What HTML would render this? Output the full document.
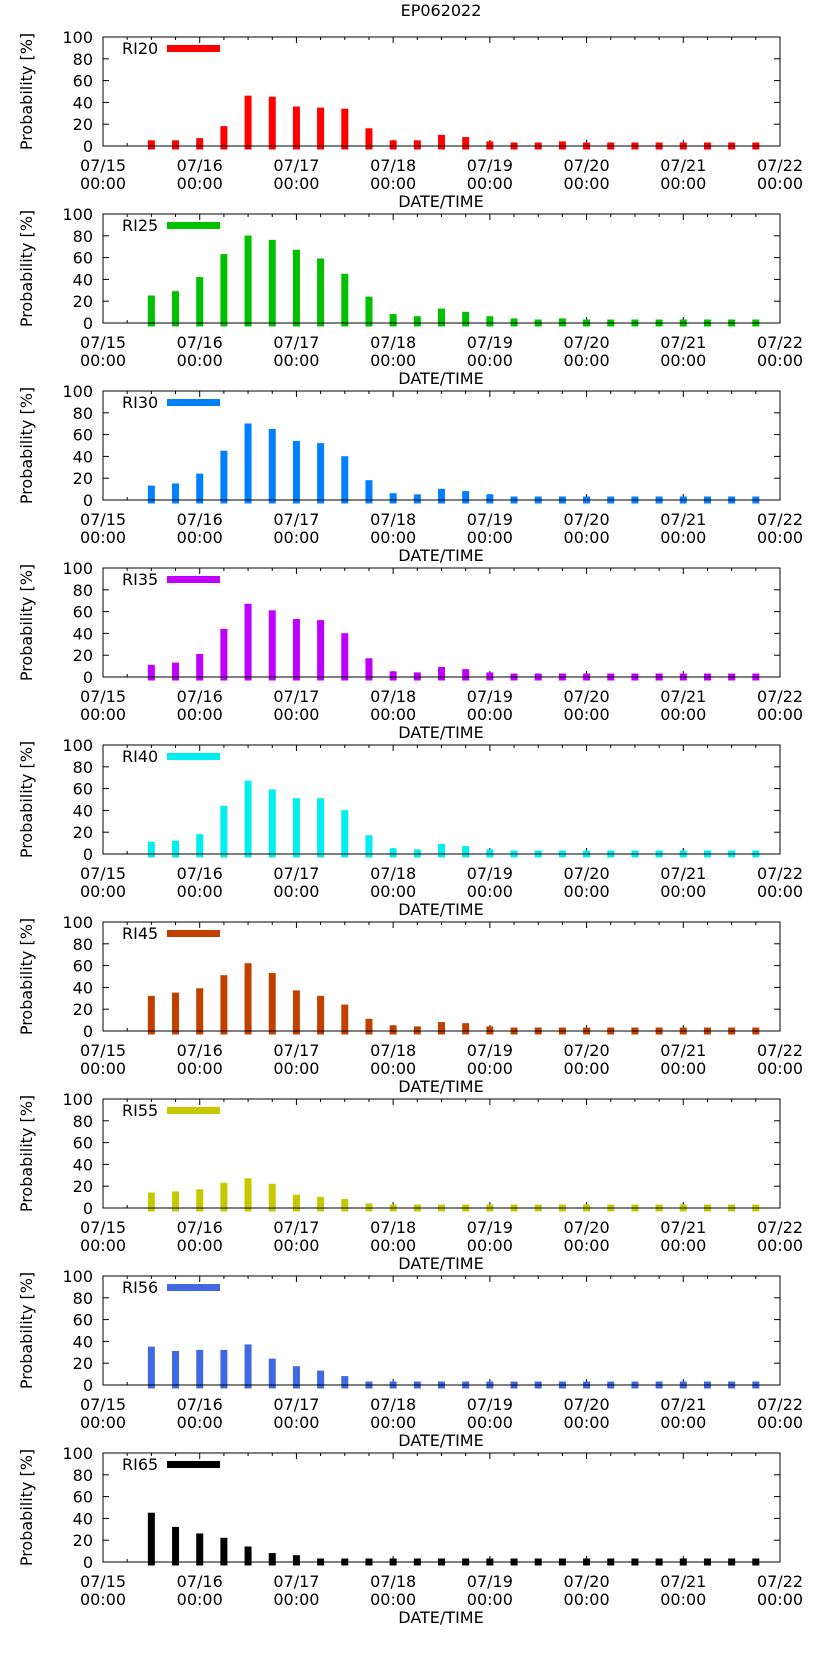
<!DOCTYPE html>
<html><head><meta charset="utf-8"><style>
html,body{margin:0;padding:0;background:#fff;}
svg text{font-family:"DejaVu Sans","Liberation Sans",sans-serif;font-size:16px;fill:#000;}
</style></head><body>
<svg id="chart" width="822" height="1653" xmlns="http://www.w3.org/2000/svg">
<text x="441" y="16" text-anchor="middle">EP062022</text>
</svg>
<script>
const seriesNames = ["RI20","RI25","RI30","RI35","RI40","RI45","RI55","RI56","RI65"];
const seriesColors = ["#ff0000","#00c000","#0080ff","#c000ff","#00eeee","#c04000","#c8c800","#4169e1","#000000"];
const ri20 = [2,2,4,15,43,42,33,32,31,13,2,2,7,5,1,0,0,1,0,0,0,0,0,0,0,0];
const ri25 = [22,26,39,60,77,73,64,56,42,21,5,3,10,7,3,1,0,1,0,0,0,0,0,0,0,0];
const ri30 = [10,12,21,42,67,62,51,49,37,15,3,2,7,5,2,0,0,0,0,0,0,0,0,0,0,0];
const ri35 = [8,10,18,41,64,58,50,49,37,14,2,1,6,4,1,0,0,0,0,0,0,0,0,0,0,0];
const ri40 = [8,9,15,41,64,56,48,48,37,14,2,1,6,4,1,0,0,0,0,0,0,0,0,0,0,0];
const ri45 = [29,32,36,48,59,50,34,29,21,8,2,1,5,4,1,0,0,0,0,0,0,0,0,0,0,0];
const ri55 = [11,12,14,20,24,19,9,7,5,1,0,0,0,0,0,0,0,0,0,0,0,0,0,0,0,0];
const ri56 = [32,28,29,29,34,21,14,10,5,0,0,0,0,0,0,0,0,0,0,0,0,0,0,0,0,0];
const ri65 = [42,29,23,19,11,5,3,0,0,0,0,0,0,0,0,0,0,0,0,0,0,0,0,0,0,0];
const allSeries = [ri20,ri25,ri30,ri35,ri40,ri45,ri55,ri56,ri65];
const firstHour = 12, stepHours = 6;
const yTicks = [0,20,40,60,80,100];
const dayLabels = ["07/15","07/16","07/17","07/18","07/19","07/20","07/21","07/22"];

const NS="http://www.w3.org/2000/svg";
const svg=document.getElementById('chart');
const X0=103, X1=780, DAYPX=(X1-X0)/7;
const xScale=h=>X0+h/24*DAYPX;
function mk(tag,attrs,parent){const e=document.createElementNS(NS,tag);for(const k in attrs)e.setAttribute(k,attrs[k]);(parent||svg).appendChild(e);return e;}
allSeries.forEach((vals,p)=>{
  const base=146+177*p, top=base-109;
  const yScale=v=>base-v/100*109;
  const g=mk('g',{});
  
  
  yTicks.forEach(t=>{
    const y=yScale(t);
    const tx=mk('text',{x:X0-10,y:y+6,'text-anchor':'end'},g);tx.textContent=t;
    
    
    mk('line',{x1:X0,y1:y,x2:X0+6,y2:y,stroke:'#000'},g);
    mk('line',{x1:X1,y1:y,x2:X1-6,y2:y,stroke:'#000'},g);
  });
  for(let h=0;h<=168;h+=6){
    const x=xScale(h), L=(h%24===0)?6:3;
    mk('line',{x1:x,y1:base,x2:x,y2:base-L,stroke:'#000'},g);
    mk('line',{x1:x,y1:top,x2:x,y2:top+L,stroke:'#000'},g);
  }
  dayLabels.forEach((d,i)=>{
    const x=xScale(i*24);
    const t=mk('text',{x:x,y:base+25,'text-anchor':'middle'},g);t.textContent=d;
    
    
    const t2=mk('text',{x:x,y:base+43,'text-anchor':'middle'},g);t2.textContent='00:00';
    
    
  });
  const xl=mk('text',{x:441,y:base+61,'text-anchor':'middle'},g);xl.textContent='DATE/TIME';
  
  
  const yl=mk('text',{x:0,y:0,'text-anchor':'middle',transform:`translate(32,${(base+top)/2}) rotate(-90)`},g);yl.textContent='Probability [%]';
  
  
  vals.forEach((v,i)=>{
    const x=xScale(firstHour+i*stepHours);
    const r=mk('rect',{x:x-3.5,y:yScale(v)-3.5,width:7,height:(base-yScale(v))+7,fill:seriesColors[p]},g);
    
    
  });
  mk('rect',{x:X0,y:top,width:X1-X0,height:base-top,fill:'none',stroke:'#000','stroke-width':1},g);
  const lt=mk('text',{x:122,y:top+17},g);lt.textContent=seriesNames[p];
  
  
  const ll=mk('rect',{x:167,y:top+8,width:53,height:7,fill:seriesColors[p]},g);
  
  
});
</script>
</body></html>
